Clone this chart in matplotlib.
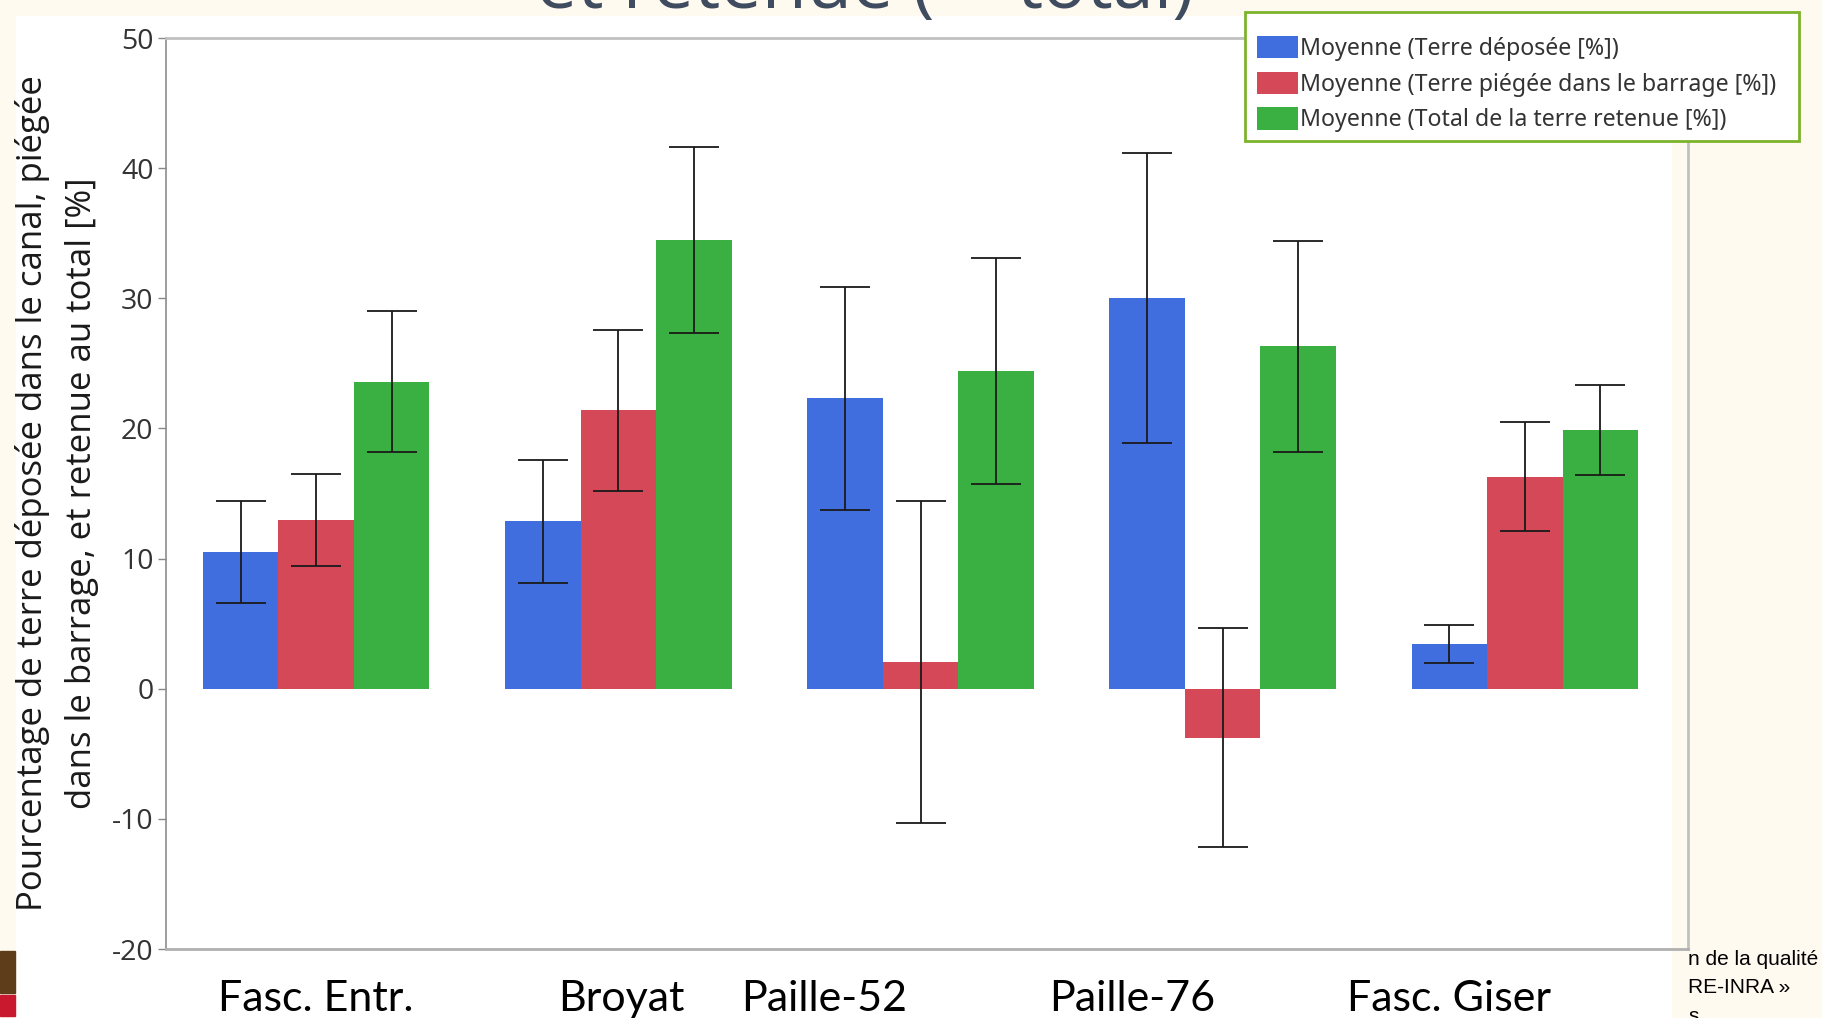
import numpy as np
import matplotlib
matplotlib.use('Agg')
import matplotlib.pyplot as plt
from matplotlib.patches import Rectangle

# data
categories = ['Fasc. Entr.', 'Broyat', 'Paille-52', 'Paille-76', 'Fasc. Giser']
label_x = [0.0, 1.01, 1.68, 2.70, 3.75]   # where the slide put the category captions

deposee = [10.5, 12.85, 22.3, 30.05, 3.45]
deposee_err = [3.9, 4.75, 8.6, 11.15, 1.45]
piegee = [12.95, 21.4, 2.05, -3.75, 16.3]
piegee_err = [3.55, 6.2, 12.35, 8.45, 4.2]
total = [23.6, 34.45, 24.4, 26.3, 19.85]
total_err = [5.4, 7.15, 8.7, 8.1, 3.45]

series_names = ['Moyenne (Terre déposée [%])',
                'Moyenne (Terre piégée dans le barrage [%])',
                'Moyenne (Total de la terre retenue [%])']
colors = ['#416ede', '#d44858', '#3aaf42']

yticks = [-20, -10, 0, 10, 20, 30, 40, 50]

W, H = 1822, 1018
fig = plt.figure(figsize=(W/100, H/100), dpi=100, facecolor='white')

# slide background bits around the pasted chart
cream = '#fffaf0'
bg = [((0, 0), 15/W, 1, cream),
      ((0, 1-15/H), 1, 15/H, cream),
      ((1672/W, 0), 1-1672/W, 1, cream),
      ((0, 1-993/H), 15/W, 42/H, '#5e3d1a'),
      ((0, 1-1016/H), 15/W, 21/H, '#c8192f')]
for xy, ww, hh, c in bg:
    fig.patches.append(Rectangle(xy, ww, hh, transform=fig.transFigure, color=c, zorder=-5))

ax = fig.add_axes([166/W, 1-949/H, (1688-166)/W, (949-38)/H])
ax.set_zorder(1)
ax.set_facecolor('none')

x = np.arange(len(categories))
w = 0.25
for i, (vals, errs) in enumerate([(deposee, deposee_err), (piegee, piegee_err), (total, total_err)]):
    pos = x + (i-1)*w
    ax.bar(pos, vals, w, color=colors[i], label=series_names[i], zorder=2)
    ax.errorbar(pos, vals, yerr=errs, fmt='none', ecolor='#1a1a1a', elinewidth=1.3,
                capsize=18, capthick=1.3, zorder=3)

ax.set_xlim(-0.497, 4.54)
ax.set_ylim(-20, 50)
ax.set_yticks(yticks)
ax.set_yticklabels([str(t) for t in yticks], fontsize=20.5, color='#333333', family='Open Sans')
ax.set_xticks([])
ax.tick_params(axis='y', direction='out', length=6, color='#888888', width=1, pad=3)

for s in ['top', 'right']:
    ax.spines[s].set_color('#c0c0c0')
    ax.spines[s].set_linewidth(2)
ax.spines['left'].set_color('#8c8c8c')
ax.spines['left'].set_linewidth(1.2)
ax.spines['bottom'].set_color('#b0b0b0')
ax.spines['bottom'].set_linewidth(2)

# category captions (slide text boxes)
cap_y = -(1011-949)/(949-38)
for lx, name in zip(label_x, categories):
    ax.text(lx, cap_y, name, transform=ax.get_xaxis_transform(), ha='center', va='baseline',
            fontsize=31, family='Lato', color='black', clip_on=False)

fig.text(57/W, 0.5*((1-949/H)+(1-38/H)),
         'Pourcentage de terre déposée dans le canal, piégée\ndans le barrage, et retenue au total [%]',
         rotation=90, ha='center', va='center', multialignment='center',
         fontsize=25, family='Open Sans', color='#1a1a1a', linespacing=1.6)

# legend box drawn separately so the padding matches the original
box = Rectangle((1245/W, 1-141/H), (1799-1245)/W, (141-12)/H, transform=fig.transFigure,
                facecolor='white', edgecolor='#7cb32b', linewidth=2, zorder=8, clip_on=False)
ax.add_artist(box)
leg = ax.legend(loc='upper left', bbox_to_anchor=(1257/W, 1-36/H), bbox_transform=fig.transFigure,
                frameon=False, prop={'family': 'Noto Sans', 'size': 16.7},
                handlelength=1.75, handleheight=1.1, handletextpad=0.12, labelspacing=0.46,
                borderpad=0, borderaxespad=0)
leg.set_zorder(10)
for t in leg.get_texts():
    t.set_color('#333333')

# title of the slide, mostly cut off at the top
fig.text(935/W, 1-8/H, 'et retenue (', ha='right', va='baseline', fontsize=53,
         family='Open Sans', color='#3f4b5f')
fig.text(1017/W, 1-8/H, 'total)', ha='left', va='baseline', fontsize=53,
         family='Open Sans', color='#3f4b5f')

# slide footer text peeking out at the bottom right
for txt, yy in [('n de la qualité', 965), ('RE-INRA »', 993), ('s', 1022)]:
    fig.text(1688/W, 1-yy/H, txt, ha='left', va='baseline', fontsize=15,
             family='Liberation Sans', color='black')

fig.savefig('out.png', dpi=100, facecolor=fig.get_facecolor())
